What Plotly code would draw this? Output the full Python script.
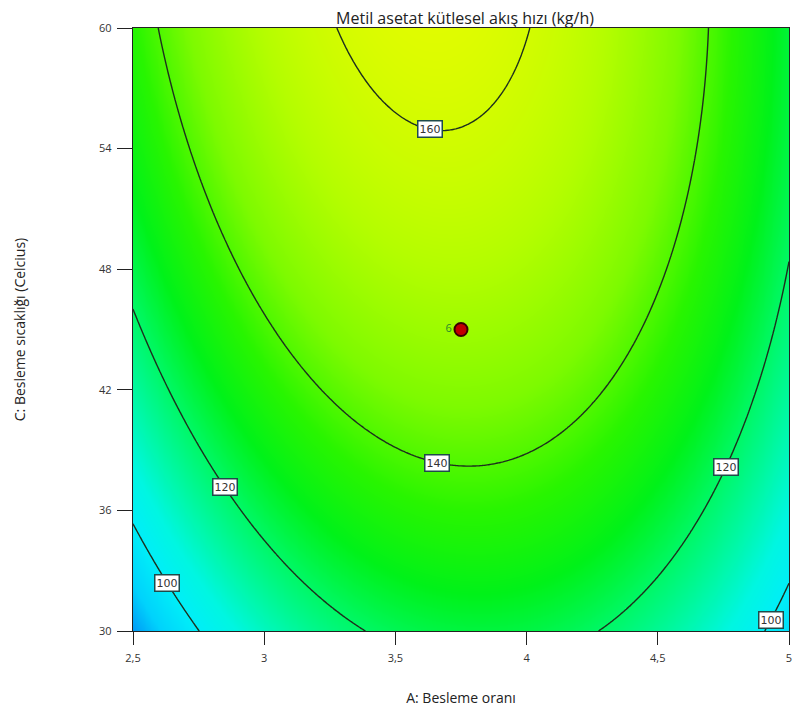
import numpy as np
import plotly.graph_objects as go

# ---- data ----
A_ticks = [2.5, 3.0, 3.5, 4.0, 4.5, 5.0]
A_ticktext = ["2,5", "3", "3,5", "4", "4,5", "5"]
C_ticks = [30, 36, 42, 48, 54, 60]
C_ticktext = ["30", "36", "42", "48", "54", "60"]

# estimated response (kg/h) at tick grid, rows = C (30..60), cols = A (2.5..5)
Z_grid = [
    [87.4, 109.8, 121.8, 123.5, 114.8, 95.7],
    [101.5, 123.1, 134.3, 135.2, 125.8, 105.9],
    [113.3, 134.2, 144.6, 144.8, 134.5, 113.9],
    [122.9, 143.0, 152.8, 152.1, 141.1, 119.7],
    [130.4, 149.7, 158.7, 157.2, 145.5, 123.3],
    [135.6, 154.2, 162.4, 160.2, 147.6, 124.7],
]
contour_levels = [100, 120, 140, 160]
# label placement along A for each labelled contour line
label_levels = [160, 140, 120, 120, 100, 100]
label_A = [3.63, 3.66, 2.85, 4.76, 2.63, 4.93]

design_A = [3.75]
design_C = [45]
design_text = ["6"]

title = "Metil asetat kütlesel akış hızı (kg/h)"
x_title = "A: Besleme oranı"
y_title = "C: Besleme sıcaklığı (Celcius)"

# ---- quadratic response surface fitted to grid (coded units) ----
Ag, Cg = np.meshgrid(A_ticks, C_ticks)
def coded(A, C):
    return (np.asarray(A) - 3.75) / 1.25, (np.asarray(C) - 45.0) / 15.0
def design_matrix(a, c):
    return np.column_stack([np.ones_like(a), a, c, a * a, c * c, a * c])
a_g, c_g = coded(Ag.ravel(), Cg.ravel())
coef, *_ = np.linalg.lstsq(design_matrix(a_g, c_g), np.array(Z_grid).ravel(), rcond=None)

def model(A, C):
    a, c = coded(A, C)
    a = np.atleast_1d(a).astype(float); c = np.atleast_1d(c).astype(float)
    return design_matrix(a, c) @ coef

xs = np.linspace(2.5, 5.0, 251)
ys = np.linspace(30, 60, 301)
XX, YY = np.meshgrid(xs, ys)
ZZ = model(XX.ravel(), YY.ravel()).reshape(XX.shape)

def solve_C(A, level):
    a = (A - 3.75) / 1.25
    b0, b1, b2, b11, b22, b12 = coef
    roots = np.roots([b22, b2 + b12 * a, b0 + b1 * a + b11 * a * a - level])
    roots = [r.real for r in roots if abs(r.imag) < 1e-9 and -1.05 <= r.real <= 1.05]
    return 45 + 15 * min(roots)

colorscale = [
    [0.0, "rgb(0,150,245)"],
    [0.08, "rgb(0,210,252)"],
    [0.17, "rgb(0,238,248)"],
    [0.25, "rgb(0,246,225)"],
    [0.34, "rgb(0,248,165)"],
    [0.43, "rgb(0,248,105)"],
    [0.54, "rgb(0,242,25)"],
    [0.645, "rgb(40,245,0)"],
    [0.76, "rgb(125,250,0)"],
    [0.88, "rgb(180,253,0)"],
    [1.0, "rgb(225,252,0)"],
]

# page body has an 8px margin inside the 803x720 window
W, H = 787, 700

fig = go.Figure()
fig.add_trace(go.Contour(
    x=xs, y=ys, z=ZZ,
    zmin=87, zmax=163,
    colorscale=colorscale,
    contours=dict(start=min(contour_levels), end=max(contour_levels), size=20,
                  coloring="heatmap", showlabels=False),
    line=dict(color="#1d2f1d", width=1.4),
    showscale=False, hoverinfo="skip",
))

fig.add_trace(go.Scatter(
    x=design_A, y=design_C, mode="markers+text", text=design_text,
    textposition="middle left",
    textfont=dict(family="Open Sans", size=11, color="#2a8a2a"),
    marker=dict(size=13, color="#c00000", line=dict(color="#3a0000", width=2)),
    showlegend=False, hoverinfo="skip", cliponaxis=False,
))

annotations = []
for lvl, A in zip(label_levels, label_A):
    annotations.append(dict(
        x=A, y=solve_C(A, lvl), xref="x", yref="y", text=str(lvl), showarrow=False,
        font=dict(family="DejaVu Sans", size=11, color="#333333"),
        bgcolor="white", bordercolor="#1f4a4a", borderwidth=1.5, borderpad=1,
    ))

fig.update_layout(
    width=W, height=H,
    margin=dict(l=125, r=6, t=20, b=77, autoexpand=False),
    paper_bgcolor="white", plot_bgcolor="white",
    title=dict(text=title, x=457 / W, xanchor="center", y=1 - 10 / H, yanchor="middle",
               font=dict(family="Open Sans", size=16, color="#222222")),
    annotations=annotations,
    showlegend=False,
)
fig.update_xaxes(
    range=[2.5, 5.0], tickvals=A_ticks, ticktext=A_ticktext, automargin=False,
    ticks="outside", ticklen=13, tickwidth=1.3, tickcolor="#222",
    ticklabelstandoff=4,
    showline=True, linecolor="#222", linewidth=1.3, mirror=True,
    showgrid=False, zeroline=False,
    tickfont=dict(family="Open Sans", size=11, color="#333"),
    title=dict(text=x_title, standoff=28, font=dict(family="Open Sans", size=14, color="#222")),
)
fig.update_yaxes(
    range=[30, 60], tickvals=C_ticks, ticktext=C_ticktext, automargin=False,
    ticks="outside", ticklen=15, tickwidth=1.3, tickcolor="#222",
    ticklabelstandoff=3,
    showline=True, linecolor="#222", linewidth=1.3, mirror=True,
    showgrid=False, zeroline=False,
    tickfont=dict(family="Open Sans", size=11, color="#333"),
    title=dict(text=y_title, standoff=70, font=dict(family="Open Sans", size=14, color="#222")),
)

fig.write_html("out.html")
